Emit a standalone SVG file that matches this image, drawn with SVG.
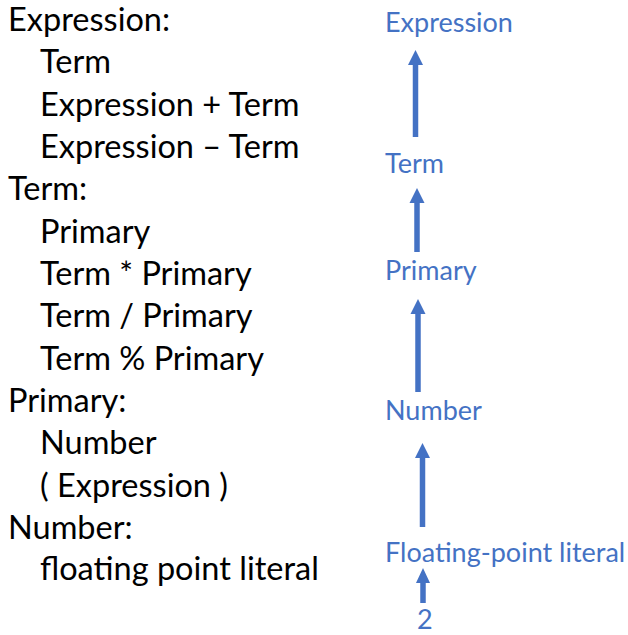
<svg xmlns="http://www.w3.org/2000/svg" width="628" height="635" viewBox="0 0 628 635">
  <style>
    .rule { font-family: Lato, "Open Sans", sans-serif; font-size: 32.5px; fill: #000000; }
    .node { font-family: Lato, "Open Sans", sans-serif; font-size: 27px; fill: #4472C4; }
    .shaft { stroke: #4472C4; stroke-width: 5.5; fill: none; }
    .head { fill: #4472C4; }
  </style>
  <rect width="628" height="635" fill="#ffffff"/>

  <!-- grammar rules -->
  <g id="grammar">
    <text class="rule" x="8" y="31">Expression:</text>
    <text class="rule" x="40" y="73">Term</text>
    <text class="rule" x="40" y="115.5">Expression + Term</text>
    <text class="rule" x="40" y="158">Expression – Term</text>
    <text class="rule" x="8" y="200">Term:</text>
    <text class="rule" x="40" y="242.5">Primary</text>
    <text class="rule" x="40" y="285">Term * Primary</text>
    <text class="rule" x="40" y="327">Term / Primary</text>
    <text class="rule" x="40" y="369.5">Term % Primary</text>
    <text class="rule" x="8" y="412">Primary:</text>
    <text class="rule" x="40" y="454">Number</text>
    <text class="rule" x="40" y="496.5">( Expression )</text>
    <text class="rule" x="8" y="539">Number:</text>
    <text class="rule" x="40" y="580">floating point literal</text>
  </g>

  <!-- parse chain nodes -->
  <g id="node-expression"><text class="node" x="385" y="32">Expression</text></g>
  <g id="node-term"><text class="node" x="385" y="173">Term</text></g>
  <g id="node-primary"><text class="node" x="385" y="280">Primary</text></g>
  <g id="node-number"><text class="node" x="385" y="420">Number</text></g>
  <g id="node-literal"><text class="node" x="385" y="562">Floating-point literal</text></g>
  <g id="node-2"><text class="node" x="417" y="629">2</text></g>

  <!-- upward arrows -->
  <g id="connectors">
    <line class="shaft" x1="415.5" y1="137" x2="415.5" y2="63"/>
    <polygon class="head" points="415.5,50 423,65 408,65"/>
    <line class="shaft" x1="417" y1="252" x2="417" y2="201"/>
    <polygon class="head" points="417,188 424.5,203 409.5,203"/>
    <line class="shaft" x1="418" y1="392" x2="418" y2="312"/>
    <polygon class="head" points="418,299 425.5,314 410.5,314"/>
    <line class="shaft" x1="422.5" y1="527" x2="422.5" y2="456"/>
    <polygon class="head" points="422.5,443 430,458 415,458"/>
    <line class="shaft" x1="423" y1="603" x2="423" y2="581"/>
    <polygon class="head" points="423,568 430,583 416,583"/>
  </g>
</svg>
